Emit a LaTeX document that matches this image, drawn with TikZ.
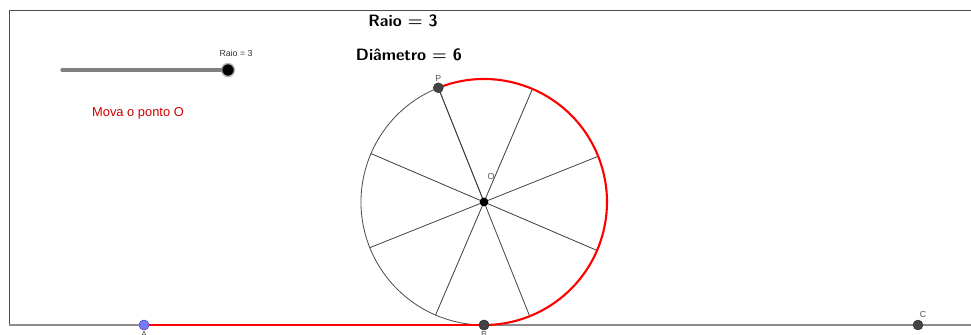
\documentclass[tikz,border=0pt]{standalone}
\usepackage{fontspec}
\usetikzlibrary{calc}
\newfontfamily\ggbfont{Liberation Sans}
\definecolor{ggbred}{HTML}{FF0000}
\definecolor{movered}{HTML}{CC0000}
\definecolor{ptgray}{HTML}{444444}
\definecolor{lblgray}{HTML}{555555}
\definecolor{ptblue}{HTML}{7878FF}
\tikzset{
  ggbpt/.style={circle,inner sep=0pt,minimum size=8.5pt,draw=#1!70!black,fill=#1,line width=0.4pt},
  ptlbl/.style={font=\ggbfont\fontsize{7.5}{8}\selectfont,text=lblgray,inner sep=1pt},
  spoke/.style={draw=black!75,line width=0.7pt}
}
\begin{document}
\begin{tikzpicture}[x=0.03cm,y=0.03cm]
\useasboundingbox (0,0) rectangle (971,335);
% frame and axis
\draw[black!70,line width=0.8pt] (9,10) -- (9,325) -- (971,325);
\draw[black!45,line width=1.1pt] (9,10) -- (971,10);
% rolling wheel
\coordinate (O) at (484,133);
\foreach \a in {111.8,156.8,...,471.8}
  \draw[spoke] (O) -- ++(\a:123);
\coordinate (Ptop) at ($(O)+(111.8:123)$);
\draw[black!70,line width=0.7pt] (Ptop) arc[start angle=111.8,end angle=270,radius=123];
\draw[ggbred,line width=1.8pt] (Ptop) arc[start angle=111.8,end angle=-90,radius=123];
% points
\node[ggbpt=ptblue] (A) at (144,10) {};
\node[ggbpt=ptgray] (B) at (484,10) {};
\node[ggbpt=ptgray] (C) at (918,10) {};
\draw[ggbred,line width=1.8pt] (A) -- (B);
\node[ggbpt=ptblue] at (A) {};
\node[ggbpt=ptgray] at (B) {};
\node[ggbpt=ptgray] (P) at (Ptop) {};
\node[circle,inner sep=0pt,minimum size=7.5pt,fill=black] (Odot) at (O) {};
\node[ptlbl,anchor=south] at (P.north) {P};
\node[ptlbl] at (491,159) {O};
\node[ptlbl,anchor=north] at (A.south) {A};
\node[ptlbl,anchor=north] at (B.south) {B};
\node[ptlbl] at (923,21) {C};
% slider
\coordinate (slidestart) at (62,265);
\node[circle,inner sep=0pt,minimum size=11pt,fill=black,draw=black!30,line width=1.2pt] (knob) at (228,265) {};
\draw[black!50,line width=2.8pt,line cap=round] (slidestart) -- (knob.west);
\node[ptlbl,text=black!80,anchor=south] at (236,277) {Raio = 3};
% texts
\node[font=\ggbfont\fontsize{11}{13}\selectfont,text=movered] (mova) at (138,222) {Mova o ponto O};
\node[font=\sffamily\bfseries\fontsize{14}{16}\selectfont] (raio) at (403,314) {Raio {\boldmath$=$} 3};
\node[font=\sffamily\bfseries\fontsize{14}{16}\selectfont] (diam) at (409,280) {Diâmetro {\boldmath$=$} 6};
\end{tikzpicture}
\end{document}
